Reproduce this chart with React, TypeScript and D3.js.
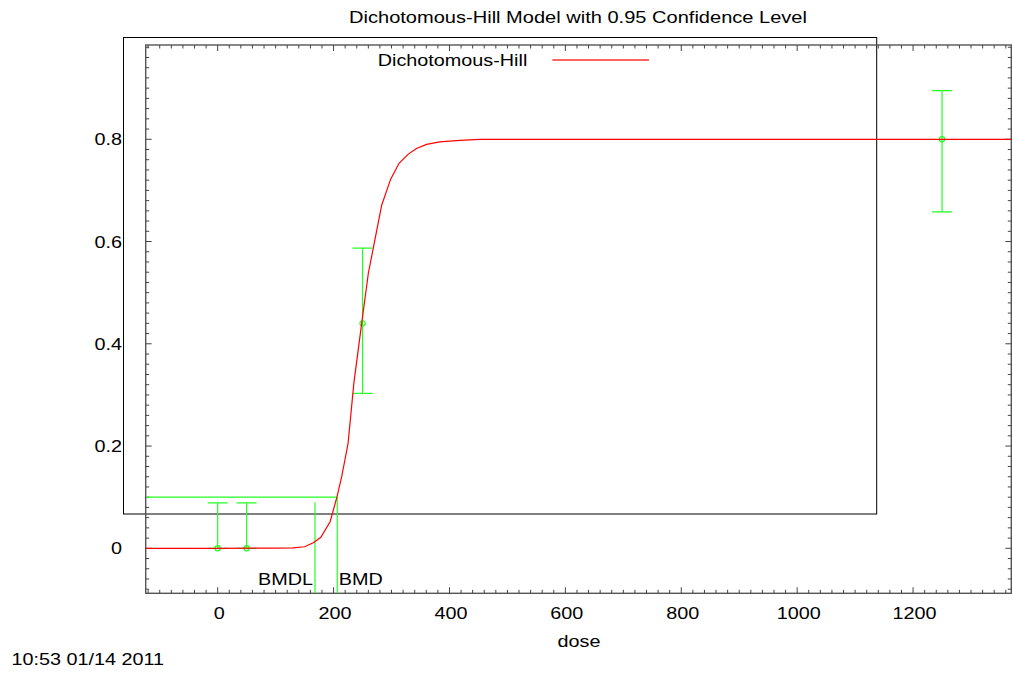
import React from "react";
import * as d3 from "d3";

// ---- data ----
const doses = [0, 50, 250, 1250];
const observed = [0, 0, 0.44, 0.8];
const ciLower = [0, 0, 0.303, 0.658];
const ciUpper = [0.089, 0.089, 0.587, 0.895];

const curveDose = [-124, 0, 100, 130, 150, 165, 178, 194, 206, 214, 225, 235, 248.5, 260, 268.5, 283, 298.5, 313, 329, 343, 360.6, 383, 418, 452, 600, 1370];
const curveResp = [0, 0, 0.0005, 0.001, 0.003, 0.011, 0.0215, 0.052, 0.101, 0.14, 0.205, 0.323, 0.44, 0.538, 0.587, 0.671, 0.722, 0.753, 0.771, 0.782, 0.79, 0.795, 0.798, 0.8, 0.8, 0.8];

const bmd = 206.3;
const bmdl = 167.9;
const bmr = 0.1;
const bmdlTop = 0.09;

const xTicks = [0, 200, 400, 600, 800, 1000, 1200];
const yTicks = [0, 0.2, 0.4, 0.6, 0.8];
const yTickLabels = ["0", "0.2", "0.4", "0.6", "0.8"];

const title = "Dichotomous-Hill Model with 0.95 Confidence Level";
const legendLabel = "Dichotomous-Hill";
const xLabel = "dose";
const stamp = "10:53 01/14 2011";

const W = 1013, H = 677;
const L = 145.7, R = 1011.3, T = 45, B = 593.3;
const GREEN = "#22ff22";
const FONT = "'Liberation Sans', Arial, Helvetica, sans-serif";

function Txt({ x, y, anchor = "start", children, size = 16.5, sx = 1.2 }: any) {
  return (
    <text
      transform={`translate(${x},${y}) scale(${sx},1)`}
      textAnchor={anchor}
      fontFamily={FONT}
      fontSize={size}
      fill="#000"
    >
      {children}
    </text>
  );
}

export default function App() {
  const x = d3.scaleLinear().domain([-124.2, 1369.5]).range([L, R]);
  const y = d3.scaleLinear().domain([-0.088, 0.9844]).range([B, T]);

  const xMinor = d3.range(-120, 1369, 20);
  const yMinor = d3.range(-8, 99, 2).map((v) => v / 100);

  const line = d3
    .line<number>()
    .x((_, i) => x(curveDose[i]))
    .y((d) => y(d));
  const curvePath = line(curveResp) || "";

  const isMajorX = (v: number) => Math.abs(v % 200) < 1e-6;
  const isMajorY = (v: number) => Math.abs(Math.round(v * 100) % 20) < 1e-6;

  return (
    <svg width={W} height={H} style={{ position: "absolute", left: 0, top: 0, background: "#fff" }}>
      <defs>
        <clipPath id="plotClip">
          <rect x={L} y={T} width={R - L} height={B - T} />
        </clipPath>
      </defs>
      <rect x={0} y={0} width={W} height={H} fill="#fff" />

      {/* title */}
      <Txt x={578} y={23} anchor="middle" size={16.3} sx={1.23}>{title}</Txt>

      {/* legend box */}
      <rect x={123.5} y={37.5} width={876.7 - 123.5} height={514 - 37.5} fill="none" stroke="#000" strokeWidth={1} />

      {/* plot frame */}
      <rect x={L} y={T} width={R - L} height={B - T} fill="none" stroke="#555" strokeWidth={1.4} />

      {/* x ticks bottom & top */}
      {xMinor.map((v) => {
        const len = isMajorX(v) ? 6 : 3.5;
        return (
          <g key={"xt" + v} stroke="#444" strokeWidth={1}>
            <line x1={x(v)} x2={x(v)} y1={B} y2={B - len} />
            <line x1={x(v)} x2={x(v)} y1={T} y2={T + len} />
          </g>
        );
      })}
      {/* y ticks left & right */}
      {yMinor.map((v) => {
        const len = isMajorY(v) ? 6 : 3.5;
        return (
          <g key={"yt" + v} stroke="#444" strokeWidth={1}>
            <line x1={L} x2={L + len} y1={y(v)} y2={y(v)} />
            <line x1={R} x2={R - len} y1={y(v)} y2={y(v)} />
          </g>
        );
      })}

      {/* tick labels */}
      {xTicks.map((v) => (
        <Txt key={"xl" + v} x={x(v) + 1.5} y={619.3} anchor="middle">{String(v)}</Txt>
      ))}
      {yTicks.map((v, i) => (
        <Txt key={"yl" + v} x={122} y={y(v) + 6} anchor="end">{yTickLabels[i]}</Txt>
      ))}

      <Txt x={579} y={647} anchor="middle">{xLabel}</Txt>
      <Txt x={11.5} y={665}>{stamp}</Txt>

      {/* legend entry */}
      <Txt x={377.7} y={66}>{legendLabel}</Txt>
      <line x1={552.3} x2={649} y1={60} y2={60} stroke="#ff3030" strokeWidth={1.3} />

      <g clipPath="url(#plotClip)">
        {/* BMR / BMD / BMDL lines */}
        <line x1={L} x2={x(bmd)} y1={y(bmr)} y2={y(bmr)} stroke={GREEN} strokeWidth={1.2} />
        <line x1={x(bmd)} x2={x(bmd)} y1={y(bmr)} y2={B} stroke={GREEN} strokeWidth={1.2} />
        <line x1={x(bmdl)} x2={x(bmdl)} y1={y(bmdlTop)} y2={B} stroke={GREEN} strokeWidth={1.2} />

        {/* error bars */}
        {doses.map((d, i) => (
          <g key={"eb" + i} stroke={GREEN} strokeWidth={1.2} fill="none">
            <line x1={x(d)} x2={x(d)} y1={y(ciLower[i])} y2={y(ciUpper[i])} />
            <line x1={x(d) - 10} x2={x(d) + 10} y1={y(ciLower[i])} y2={y(ciLower[i])} />
            <line x1={x(d) - 10} x2={x(d) + 10} y1={y(ciUpper[i])} y2={y(ciUpper[i])} />
            <circle cx={x(d)} cy={y(observed[i])} r={2.6} />
          </g>
        ))}

        {/* model curve */}
        <path d={curvePath} fill="none" stroke="#ff0000" strokeWidth={1.2} />
      </g>

      <Txt x={x(bmdl) - 2} y={585} anchor="end">BMDL</Txt>
      <Txt x={x(bmd) + 1.5} y={585}>BMD</Txt>
    </svg>
  );
}
